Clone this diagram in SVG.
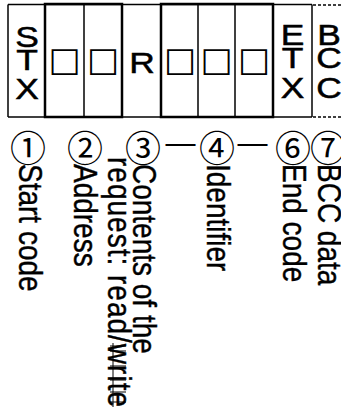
<svg xmlns="http://www.w3.org/2000/svg" width="341" height="410" viewBox="0 0 341 410">
<style>
.thin{stroke:#000;stroke-width:1.5;fill:none}
.thick{stroke:#000;stroke-width:2.5;fill:none}
.dash{stroke:#000;stroke-width:1.5;stroke-dasharray:3 2;fill:none}
.art{stroke:#000;stroke-width:1;fill:none}
.t{font-family:"Liberation Sans",Arial,sans-serif;font-size:28px;fill:#000;stroke:#000;stroke-width:0.35}
.big{font-size:29px;stroke-width:0.5}
.c{text-anchor:middle}
.sq{font-family:"DejaVu Sans",sans-serif;font-size:34px;fill:#000;text-anchor:middle}
.num{font-family:"Noto Sans CJK JP","DejaVu Sans",sans-serif;font-size:36px;fill:#000;text-anchor:middle}
.dsh{font-family:"Liberation Sans",Arial,sans-serif;font-size:30px;fill:#000}
</style>
<rect width="341" height="410" fill="#fff"/>
<g id="frame">
<line class="thin" x1="8" y1="4.5" x2="312" y2="4.5"/>
<line class="thin" x1="8" y1="117" x2="312" y2="117"/>
<line class="thin" x1="8" y1="4.5" x2="8" y2="117"/>
<line class="thin" x1="84" y1="4.5" x2="84" y2="117"/>
<line class="thin" x1="198" y1="4.5" x2="198" y2="117"/>
<line class="thin" x1="235" y1="4.5" x2="235" y2="117"/>
<line class="thin" x1="312" y1="4.5" x2="312" y2="117"/>
<rect class="thick" x="45" y="4" width="77" height="113"/>
<rect class="thick" x="161" y="4" width="112" height="113"/>
<line class="dash" x1="313" y1="5" x2="341" y2="5"/>
<line class="dash" x1="313" y1="117" x2="341" y2="117"/>
</g>
<g id="stx">
<text class="t big c" transform="translate(27,47) scale(1.22,1)">S</text>
<text class="t big c" transform="translate(27,70) scale(1.22,1)">T</text>
<text class="t big c" transform="translate(27,99) scale(1.22,1)">X</text>
</g>
<g id="address">
<text class="sq" x="64.5" y="71">□</text>
<text class="sq" x="103" y="71">□</text>
</g>
<g id="request">
<text class="t big c" transform="translate(142,73) scale(1.22,1)">R</text>
</g>
<g id="identifier">
<text class="sq" x="180" y="71">□</text>
<text class="sq" x="216.5" y="71">□</text>
<text class="sq" x="254" y="71">□</text>
</g>
<g id="etx">
<text class="t big c" transform="translate(292.5,45) scale(1.22,1)">E</text>
<text class="t big c" transform="translate(292.5,68) scale(1.22,1)">T</text>
<text class="t big c" transform="translate(292.5,98) scale(1.22,1)">X</text>
</g>
<g id="bcc">
<text class="t big c" transform="translate(329,45) scale(1.22,1)">B</text>
<text class="t big c" transform="translate(329,68) scale(1.22,1)">C</text>
<text class="t big c" transform="translate(329,98) scale(1.22,1)">C</text>
</g>
<g id="labels">
<text class="num" x="28" y="162">①</text>
<text class="num" x="85" y="162">②</text>
<text class="num" x="143" y="162">③</text>
<text class="num" x="217" y="162">④</text>
<text class="num" x="293" y="162">⑥</text>
<text class="num" x="328" y="162">⑦</text>
<text class="dsh" x="165.5" y="152.6">—</text>
<text class="dsh" x="237.5" y="152.6">—</text>
<text class="t" transform="translate(19,164) scale(1.16,1) rotate(90)">Start code</text>
<text class="t" transform="translate(74,164) scale(1.16,1) rotate(90)">Address</text>
<text class="t" transform="translate(133,164) scale(1.16,1) rotate(90)">Contents of the</text>
<text class="t" transform="translate(108,157) scale(1.16,1) rotate(90)" textLength="250" lengthAdjust="spacing">request: read/write</text>
<text class="t" transform="translate(207,164) scale(1.16,1) rotate(90)">Identifier</text>
<text class="t" transform="translate(283,164) scale(1.16,1) rotate(90)">End code</text>
<text class="t" transform="translate(318,164) scale(1.16,1) rotate(90)">BCC data</text>
</g>
<g id="overstrike">
<line class="art" x1="110" y1="346" x2="126" y2="346"/>
<line class="art" x1="110" y1="351" x2="126" y2="351"/>
<line class="art" x1="110" y1="366" x2="126" y2="366"/>
<line class="art" x1="110" y1="380" x2="126" y2="380"/>
<line class="art" x1="110" y1="392" x2="126" y2="392"/>
<line class="art" x1="110" y1="402" x2="126" y2="402"/>
<line class="art" x1="113" y1="343" x2="113" y2="407"/>
</g>
</svg>
